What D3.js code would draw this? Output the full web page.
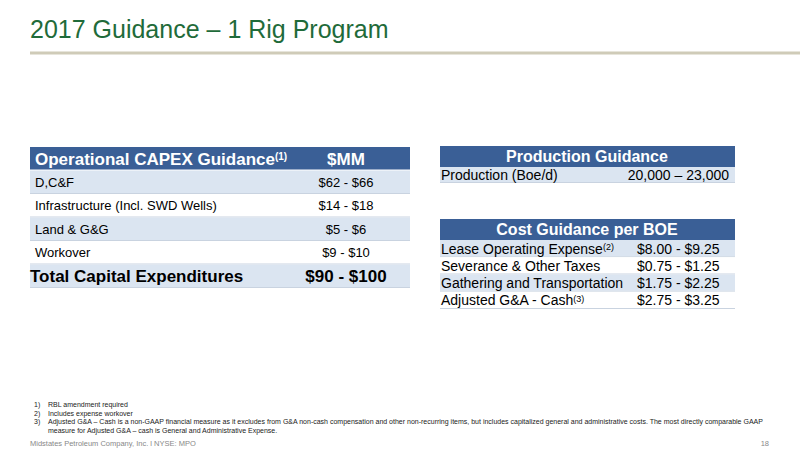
<!DOCTYPE html>
<html>
<head>
<script src="https://d3js.org/d3.v7.min.js"></script>
<style>body{margin:0;background:#fff;font-family:"Liberation Sans",Arial,sans-serif;}</style>
</head>
<body>
<script>
var capexItems = ["D,C&F", "Infrastructure (Incl. SWD Wells)", "Land & G&G", "Workover"];
var capexValues = ["$62 - $66", "$14 - $18", "$5 - $6", "$9 - $10"];
var capexTotal = ["Total Capital Expenditures", "$90 - $100"];
var prodItems = ["Production (Boe/d)"];
var prodValues = ["20,000 \u2013 23,000"];
var costItems = ["Lease Operating Expense", "Severance & Other Taxes", "Gathering and Transportation", "Adjusted G&A - Cash"];
var costNotes = ["(2)", "", "", "(3)"];
var costValues = ["$8.00 - $9.25", "$0.75 - $1.25", "$1.75 - $2.25", "$2.75 - $3.25"];
var footnotes = ["RBL amendment required", "Includes expense workover",
  "Adjusted G&A \u2013 Cash is a non-GAAP financial measure as it excludes from G&A non-cash compensation and other non-recurring items, but includes capitalized general and administrative costs.  The most directly comparable GAAP",
  "measure for Adjusted G&A \u2013 cash is General and Administrative Expense."];

var blue = "#3a5f96", light = "#dbe5f1";
var svg = d3.select("body").append("svg").attr("width", 800).attr("height", 450);

svg.append("text").attr("x", 30).attr("y", 38).attr("font-size", 25).attr("fill", "#1f6b3a")
  .text("2017 Guidance \u2013 1 Rig Program");
svg.append("line").attr("x1", 30).attr("x2", 800).attr("y1", 53).attr("y2", 53)
  .attr("stroke", "#cfcbb8").attr("stroke-width", 3);

// left table
var ly = d3.scaleBand().domain(d3.range(6)).range([147, 288]);
var lrows = [{a: "Operational CAPEX Guidance", b: "$MM", h: true}]
  .concat(capexItems.map(function(d, i){ return {a: d, b: capexValues[i]}; }))
  .concat([{a: capexTotal[0], b: capexTotal[1], t: true}]);
var lg = svg.selectAll("g.l").data(lrows).enter().append("g")
  .attr("transform", function(d, i){ return "translate(0," + ly(i) + ")"; });
lg.append("rect").attr("x", 30).attr("width", 380).attr("height", ly.bandwidth() - 1)
  .attr("fill", function(d, i){ return d.h ? blue : (i % 2 ? light : "#fff"); });
lg.filter(function(d){ return !d.h; }).append("line").attr("x1", 30).attr("x2", 410)
  .attr("y1", ly.bandwidth() - 0.5).attr("y2", ly.bandwidth() - 0.5).attr("stroke", "#c9d3e0");
lg.append("text").attr("x", function(d){ return d.t ? 30 : 35; }).attr("y", ly.bandwidth() / 2)
  .attr("dy", "0.36em").attr("font-size", function(d){ return d.h || d.t ? 17 : 13; })
  .attr("font-weight", function(d){ return d.h || d.t ? "bold" : "normal"; })
  .attr("fill", function(d){ return d.h ? "#fff" : "#000"; })
  .text(function(d){ return d.a; })
  .filter(function(d){ return d.h; }).append("tspan").attr("font-size", 10).attr("dy", "-0.5em").text("(1)");
lg.append("text").attr("x", 346).attr("y", ly.bandwidth() / 2).attr("dy", "0.36em").attr("text-anchor", "middle")
  .attr("font-size", function(d){ return d.h || d.t ? 17 : 13; })
  .attr("font-weight", function(d){ return d.h || d.t ? "bold" : "normal"; })
  .attr("fill", function(d){ return d.h ? "#fff" : "#000"; })
  .text(function(d){ return d.b; });

// right tables
function rtable(title, items, notes, values, y0, y1, right) {
  var n = items.length;
  var hy = 21, ry = d3.scaleBand().domain(d3.range(n)).range([y0 + hy, y1]);
  svg.append("rect").attr("x", 440).attr("y", y0).attr("width", 295).attr("height", hy).attr("fill", blue);
  svg.append("text").attr("x", 587).attr("y", y0 + hy / 2).attr("dy", "0.36em").attr("text-anchor", "middle")
    .attr("fill", "#fff").attr("font-weight", "bold").attr("font-size", 16).text(title);
  var g = svg.selectAll(null).data(items).enter().append("g")
    .attr("transform", function(d, i){ return "translate(0," + ry(i) + ")"; });
  g.append("rect").attr("x", 440).attr("width", 295).attr("height", ry.bandwidth() - 1)
    .attr("fill", function(d, i){ return i % 2 ? "#fff" : light; });
  g.append("line").attr("x1", 440).attr("x2", 735).attr("y1", ry.bandwidth() - 0.5).attr("y2", ry.bandwidth() - 0.5).attr("stroke", "#c9d3e0");
  var t = g.append("text").attr("x", 441).attr("y", ry.bandwidth() / 2).attr("dy", "0.36em").attr("font-size", 14)
    .text(function(d){ return d; });
  t.append("tspan").attr("font-size", 9).attr("dy", "-0.4em").text(function(d, i){ return notes[i]; });
  g.append("text").attr("x", right ? 729 : 637).attr("text-anchor", right ? "end" : "start")
    .attr("y", ry.bandwidth() / 2).attr("dy", "0.36em").attr("font-size", 14)
    .text(function(d, i){ return values[i]; });
}
rtable("Production Guidance", prodItems, [""], prodValues, 146, 183, true);
rtable("Cost Guidance per BOE", costItems, costNotes, costValues, 219, 309, false);

// footnotes
svg.selectAll("text.fn").data(footnotes).enter().append("text")
  .attr("x", 48).attr("y", function(d, i){ return 407 + i * 8.7; })
  .attr("font-size", 7).attr("fill", "#222").text(function(d){ return d; });
svg.selectAll("text.fnn").data(["1)", "2)", "3)"]).enter().append("text")
  .attr("x", 34).attr("y", function(d, i){ return 407 + i * 8.7; })
  .attr("font-size", 7).attr("fill", "#222").text(function(d){ return d; });
svg.append("text").attr("x", 30).attr("y", 446).attr("font-size", 7.5).attr("fill", "#888")
  .text("Midstates Petroleum Company, Inc. l NYSE: MPO");
svg.append("text").attr("x", 769).attr("y", 446).attr("font-size", 7.5).attr("fill", "#888").attr("text-anchor", "end").text("18");
</script>
</body>
</html>
